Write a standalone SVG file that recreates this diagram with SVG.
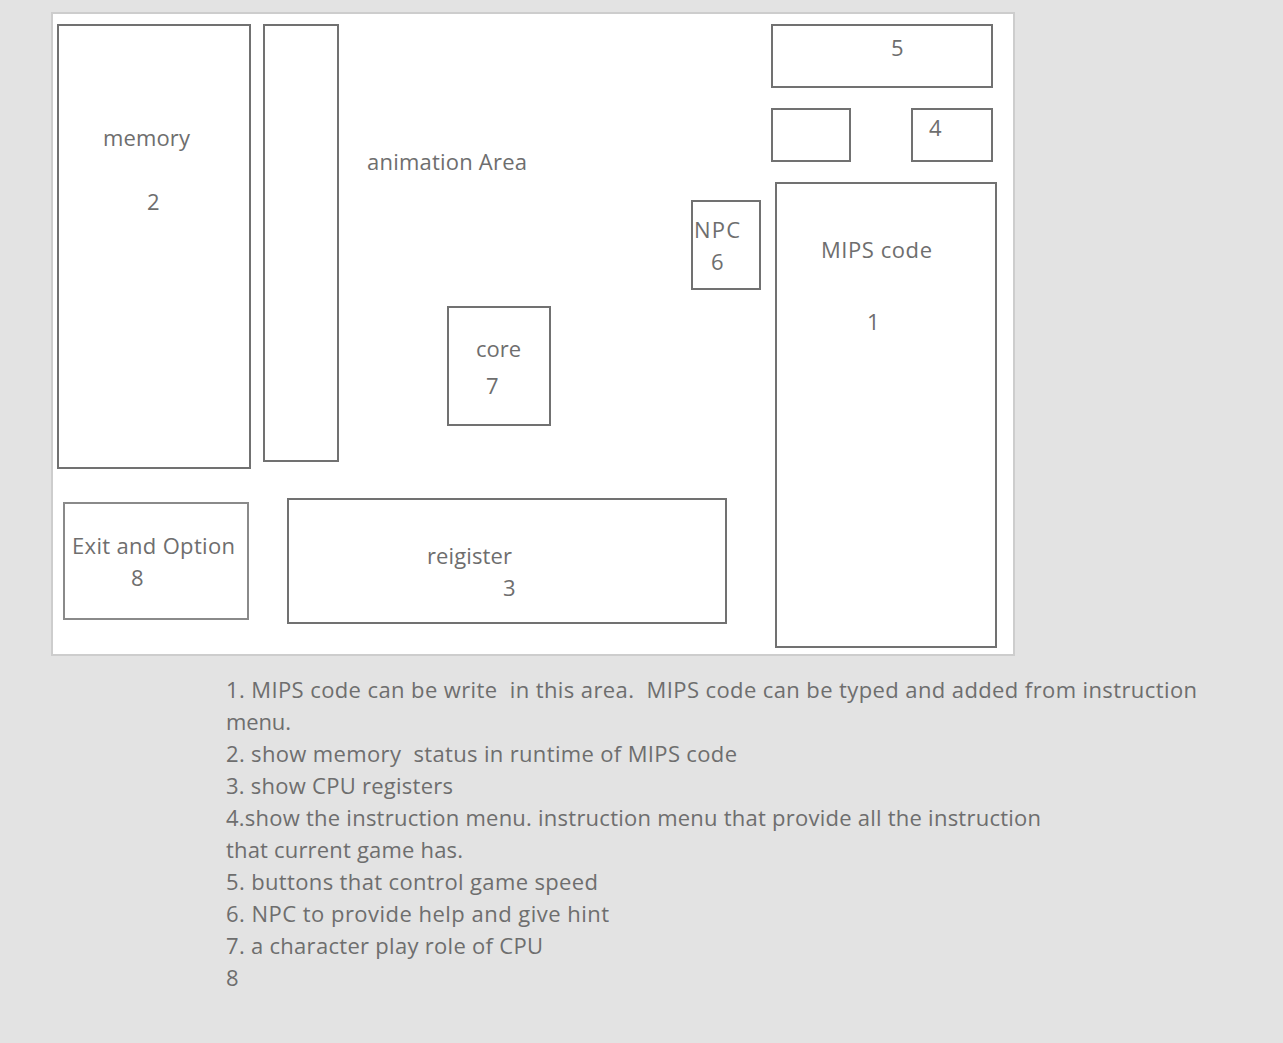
<svg xmlns="http://www.w3.org/2000/svg" width="1283" height="1043" viewBox="0 0 1283 1043">
<style>
.bg{fill:#e3e3e3}
.panel{fill:#ffffff;stroke:#cdcdcd;stroke-width:2}
.box{fill:#ffffff;stroke:#717171;stroke-width:2}
.box2{fill:#ffffff;stroke:#8a8a8a;stroke-width:2}
text{font-family:"Open Sans","Noto Sans","Liberation Sans",sans-serif;font-size:22px;fill:#6e6e6e;white-space:pre}
</style>
<rect class="bg" x="0" y="0" width="1283" height="1043"/>
<rect class="panel" x="52" y="13" width="962" height="642"/>
<g id="memory"><rect class="box" x="58" y="25" width="192" height="443"/><text x="103" y="146" textLength="87">memory</text><text x="147" y="210">2</text></g>
<g id="bar"><rect class="box" x="264" y="25" width="74" height="436"/></g>
<g id="animation"><text x="367" y="170" textLength="160">animation Area</text></g>
<g id="speed"><rect class="box" x="772" y="25" width="220" height="62"/><text x="891" y="56">5</text></g>
<g id="small"><rect class="box" x="772" y="109" width="78" height="52"/></g>
<g id="menu"><rect class="box" x="912" y="109" width="80" height="52"/><text x="929" y="136">4</text></g>
<g id="mips"><rect class="box" x="776" y="183" width="220" height="464"/><text x="821" y="258" textLength="111">MIPS code</text><text x="867" y="330">1</text></g>
<g id="npc"><rect class="box" x="692" y="201" width="68" height="88"/><text x="694" y="238" textLength="46">NPC</text><text x="711" y="270">6</text></g>
<g id="core"><rect class="box" x="448" y="307" width="102" height="118"/><text x="476" y="357" textLength="45">core</text><text x="486" y="394">7</text></g>
<g id="exit"><rect class="box2" x="64" y="503" width="184" height="116"/><text x="72" y="554" textLength="163">Exit and Option</text><text x="131" y="586">8</text></g>
<g id="register"><rect class="box" x="288" y="499" width="438" height="124"/><text x="427" y="564" textLength="85">reigister</text><text x="503" y="596">3</text></g>
<g id="connectors"></g>
<g id="notes">
<text x="226" y="698" textLength="971" xml:space="preserve">1. MIPS code can be write  in this area.  MIPS code can be typed and added from instruction</text>
<text x="226" y="730" textLength="65">menu.</text>
<text x="226" y="762" textLength="511" xml:space="preserve">2. show memory  status in runtime of MIPS code</text>
<text x="226" y="794" textLength="227">3. show CPU registers</text>
<text x="226" y="826" textLength="815">4.show the instruction menu. instruction menu that provide all the instruction</text>
<text x="226" y="858" textLength="237">that current game has.</text>
<text x="226" y="890" textLength="372">5. buttons that control game speed</text>
<text x="226" y="922" textLength="383">6. NPC to provide help and give hint</text>
<text x="226" y="954" textLength="317">7. a character play role of CPU</text>
<text x="226" y="986">8</text>
</g>
</svg>
